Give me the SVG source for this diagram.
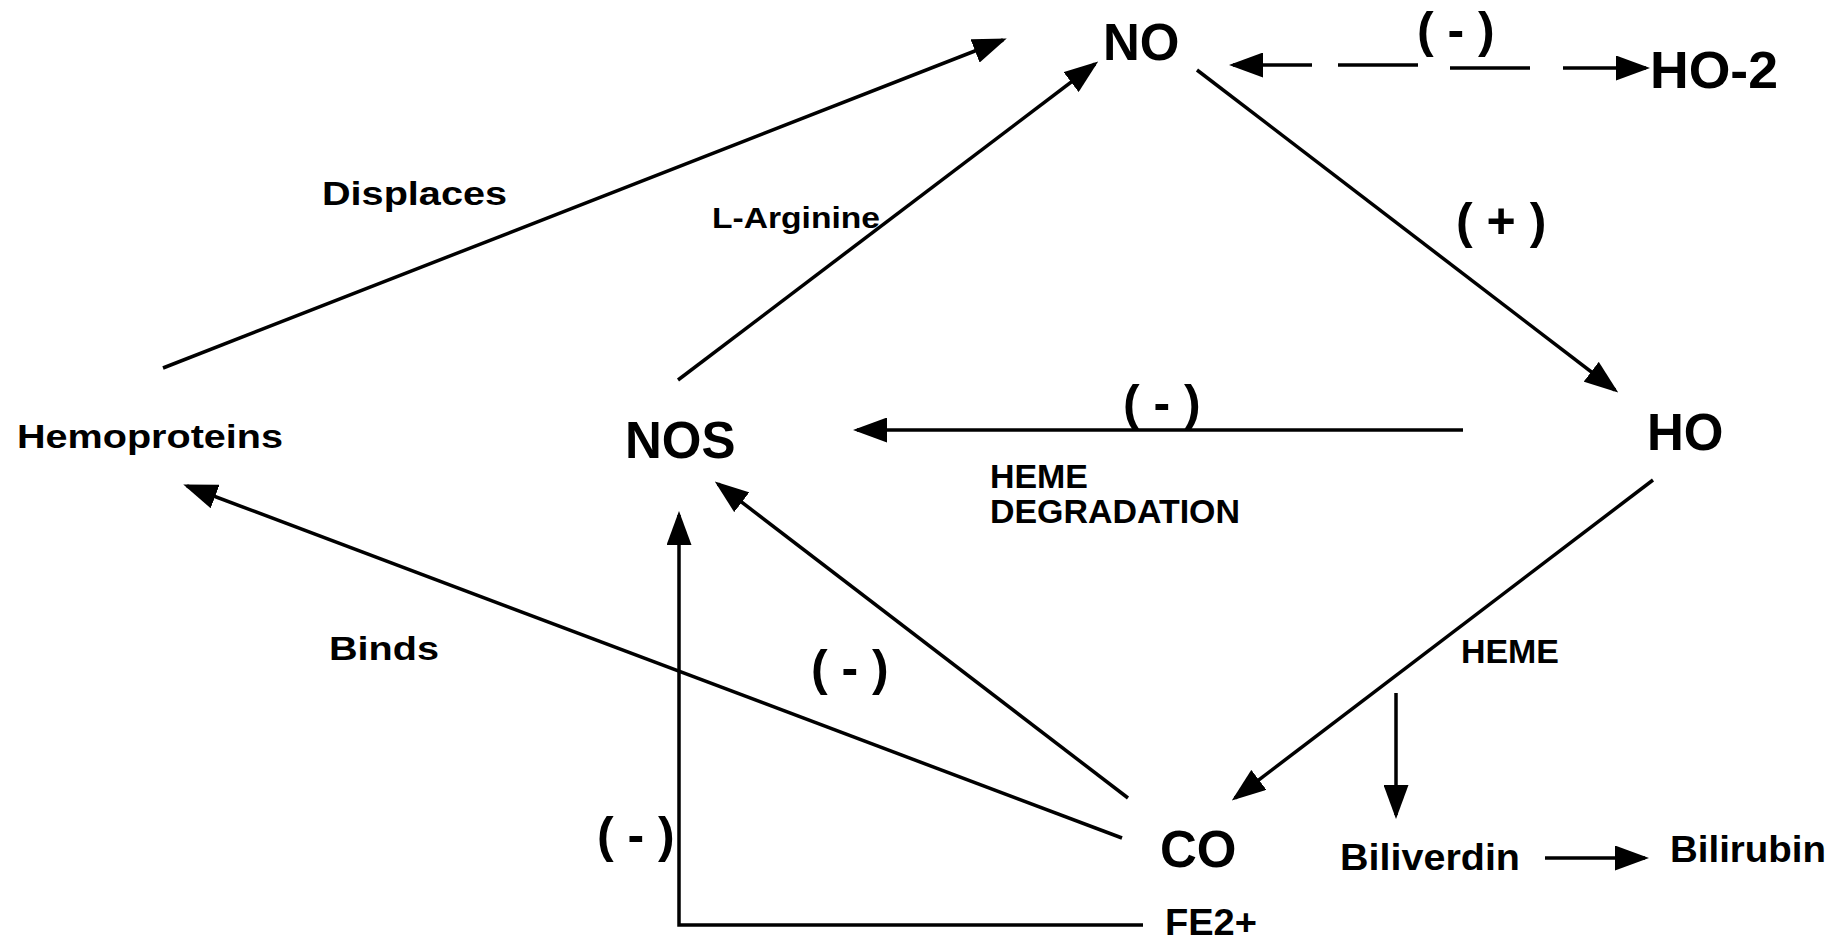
<svg xmlns="http://www.w3.org/2000/svg" width="1845" height="943" viewBox="0 0 1845 943">
<style>
text{font-family:"Liberation Sans",Arial,sans-serif;font-weight:bold;fill:#000}
.big{font-size:51px}
.lbl{font-size:34px}
.sgn{font-size:50px}
.ln{stroke:#000;stroke-width:3.5;fill:none}
.arr{marker-end:url(#ah)}
</style>
<defs>
<marker id="ah" markerUnits="userSpaceOnUse" viewBox="0 0 34 25" refX="30" refY="12.5" markerWidth="34" markerHeight="25" orient="auto">
<path d="M0,0 L34,12.5 L0,25 Z" fill="#000"/>
</marker>
</defs>
<rect width="1845" height="943" fill="#fff"/>
<g id="connectors">
<line class="ln arr" x1="163" y1="368" x2="1003" y2="40"/>
<line class="ln arr" x1="678" y1="380" x2="1095" y2="64"/>
<line class="ln arr" x1="1197" y1="70" x2="1615" y2="390"/>
<line class="ln arr" x1="1463" y1="430" x2="857" y2="430"/>
<line class="ln arr" x1="1653" y1="480" x2="1235" y2="798"/>
<line class="ln arr" x1="1312" y1="65" x2="1233" y2="65"/>
<line class="ln" x1="1338" y1="65" x2="1418" y2="65"/>
<line class="ln" x1="1450" y1="68" x2="1530" y2="68"/>
<line class="ln arr" x1="1563" y1="68" x2="1646" y2="68"/>
<line class="ln arr" x1="1396" y1="693" x2="1396" y2="815"/>
<line class="ln arr" x1="1545" y1="858" x2="1645" y2="858"/>
<line class="ln arr" x1="1128" y1="798" x2="718" y2="484"/>
<line class="ln arr" x1="1122" y1="838" x2="187" y2="486"/>
<polyline class="ln arr" points="1143,925 679,925 679,515"/>
</g>
<g id="edge-labels">
<text class="sgn" x="1417" y="47">( - )</text>
<text class="sgn" x="1456" y="238">( + )</text>
<text class="lbl" x="322" y="205" textLength="185" lengthAdjust="spacingAndGlyphs">Displaces</text>
<text x="712" y="228" font-size="30" textLength="168" lengthAdjust="spacingAndGlyphs">L-Arginine</text>
<text class="sgn" x="1123" y="420">( - )</text>
<text x="990" y="488" font-size="33" textLength="98" lengthAdjust="spacingAndGlyphs">HEME</text>
<text x="990" y="523" font-size="33" textLength="250" lengthAdjust="spacingAndGlyphs">DEGRADATION</text>
<text x="1461" y="663" font-size="33" textLength="98" lengthAdjust="spacingAndGlyphs">HEME</text>
<text class="lbl" x="329" y="660" textLength="110" lengthAdjust="spacingAndGlyphs">Binds</text>
<text class="sgn" x="811" y="685">( - )</text>
<text class="sgn" x="597" y="852">( - )</text>
</g>
<g id="node-NO"><text class="big" x="1103" y="60">NO</text></g>
<g id="node-HO2"><text class="big" x="1650" y="88" textLength="128" lengthAdjust="spacingAndGlyphs">HO-2</text></g>
<g id="node-Hemoproteins"><text class="lbl" x="17" y="448" textLength="266" lengthAdjust="spacingAndGlyphs">Hemoproteins</text></g>
<g id="node-NOS"><text class="big" x="625" y="458">NOS</text></g>
<g id="node-HO"><text class="big" x="1647" y="450">HO</text></g>
<g id="node-CO"><text class="big" x="1160" y="867">CO</text></g>
<g id="node-FE2"><text x="1165" y="935" font-size="37" textLength="92" lengthAdjust="spacingAndGlyphs">FE2+</text></g>
<g id="node-Biliverdin"><text x="1340" y="870" font-size="37" textLength="180" lengthAdjust="spacingAndGlyphs">Biliverdin</text></g>
<g id="node-Bilirubin"><text x="1670" y="862" font-size="37" textLength="156" lengthAdjust="spacingAndGlyphs">Bilirubin</text></g>
</svg>
